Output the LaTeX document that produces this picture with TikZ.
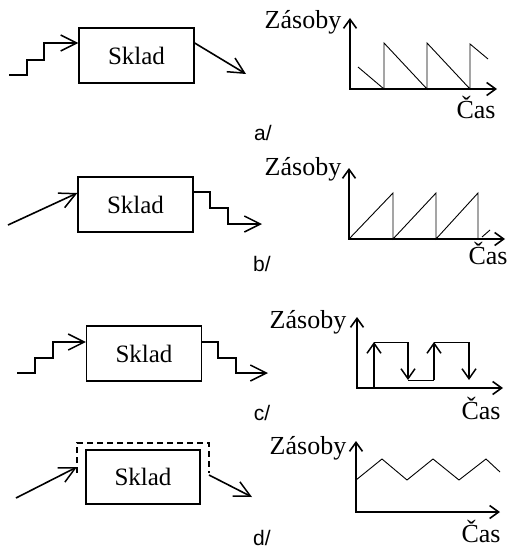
\documentclass[tikz,border=0pt]{standalone}
\usepackage{fontspec}
\setmainfont{Liberation Serif}
\newfontfamily\labfont{Liberation Sans}
\usetikzlibrary{arrows.meta}
\tikzset{
  x=1pt, y=-1pt,
  box/.style={draw, line width=1.3pt, minimum width=115pt, minimum height=55pt, inner sep=0pt, font=\fontsize{25}{29}\selectfont},
  flow/.style={line width=1.6pt, -{Straight Barb[length=16pt,width=16pt,line width=1.5pt]}},
  axis/.style={line width=1.7pt, {Straight Barb[length=9pt,width=13pt,line width=1.6pt]}-{Straight Barb[length=9pt,width=13pt,line width=1.6pt]}},
  curve/.style={line width=0.9pt},
  jump/.style={line width=1.1pt, -{Straight Barb[length=10pt,width=14pt,line width=1.5pt]}},
  axlab/.style={inner sep=0pt, font=\fontsize{26}{30}\selectfont},
  panlab/.style={inner sep=0pt, font=\labfont\fontsize{21}{24}\selectfont},
  dashbox/.style={line width=1.1pt, dash pattern=on 6pt off 4pt}
}
\begin{document}
\begin{tikzpicture}
\useasboundingbox (0,0) rectangle (509,551);
% ---------- a ----------
\node[box] (A) at (136.5,55.5) {Sklad};
\coordinate (a0) at (9,75);
\draw[flow] (a0) -- (27,75) -- (27,60) -- (44,60) -- (44,43) -- (A.west |- 0,43);
\coordinate (a1) at (246,74);
\draw[flow] (A.east |- 0,43) -- (a1);
\node[panlab] (la) at (263,133) {a/};
\coordinate (oa) at (350,89);
\draw[axis] (350,18) -- (oa) -- (497,89);
\node[axlab] (za) at (303,22) {Zásoby};
\node[axlab] (ca) at (476,107) {Čas};
\draw[curve] (358,67) -- (384,89) -- (384,43) -- (427,89) -- (427,43) -- (470,89) -- (470,44) -- (488,59);
% ---------- b ----------
\node[box] (B) at (135.5,204.5) {Sklad};
\coordinate (b0) at (8,225);
\draw[flow] (b0) -- (B.west |- 0,193);
\coordinate (b1) at (262,224);
\draw[flow] (B.east |- 0,192) -- (210,192) -- (210,208) -- (228,208) -- (228,224) -- (b1);
\node[panlab] (lb) at (262,264) {b/};
\coordinate (ob) at (349,239);
\draw[axis] (349,168) -- (ob) -- (505,239);
\node[axlab] (zb) at (303,169) {Zásoby};
\node[axlab] (cb) at (488,253) {Čas};
\draw[curve] (ob) -- (393,193) -- (393,239) -- (436,193) -- (436,239) -- (478,193) -- (478,239);
\draw[curve] (482,237) -- (490,230);
% ---------- c ----------
\node[box] (C) at (144,353.5) {Sklad};
\coordinate (c0) at (17,373);
\draw[flow] (c0) -- (35,373) -- (35,358) -- (53,358) -- (53,342) -- (C.west |- 0,342);
\coordinate (c1) at (268,373);
\draw[flow] (C.east |- 0,342) -- (218,342) -- (218,358) -- (236,358) -- (236,373) -- (c1);
\node[panlab] (lc) at (262,413) {c/};
\coordinate (oc) at (357,388);
\draw[axis] (357,317) -- (oc) -- (503,388);
\node[axlab] (zc) at (308,322) {Zásoby};
\node[axlab] (cc) at (481,408) {Čas};
\coordinate (p1) at (374,388);
\coordinate (p2) at (374,342);
\coordinate (p3) at (408,342);
\coordinate (p4) at (408,380);
\coordinate (p5) at (434,380);
\coordinate (p6) at (434,342);
\coordinate (p7) at (469,342);
\coordinate (p8) at (469,380);
\draw[jump] (p1) -- (p2);
\draw[curve] (p2) -- (p3);
\draw[jump] (p3) -- (p4);
\draw[curve] (p4) -- (p5);
\draw[jump] (p5) -- (p6);
\draw[curve] (p6) -- (p7);
\draw[jump] (p7) -- (p8);
% ---------- d ----------
\node[box, minimum width=114pt, minimum height=54pt] (D) at (143,477) {Sklad};
\draw[dashbox] (77,473) -- (77,443) -- (209,443) -- (209,473);
\coordinate (d0) at (16,498);
\coordinate (din) at (77,467);
\draw[flow] (d0) -- (din);
\coordinate (dout) at (209,475);
\coordinate (d1) at (252,497);
\draw[flow] (dout) -- (d1);
\node[panlab] (ld) at (262,538) {d/};
\coordinate (od) at (356,512);
\draw[axis] (356,441) -- (od) -- (500,512);
\node[axlab] (zd) at (308,448) {Zásoby};
\node[axlab] (cd) at (481,531) {Čas};
\draw[curve] (356,480) -- (382,459) -- (407,480) -- (433,459) -- (459,480) -- (486,459) -- (500,472);
\end{tikzpicture}
\end{document}
